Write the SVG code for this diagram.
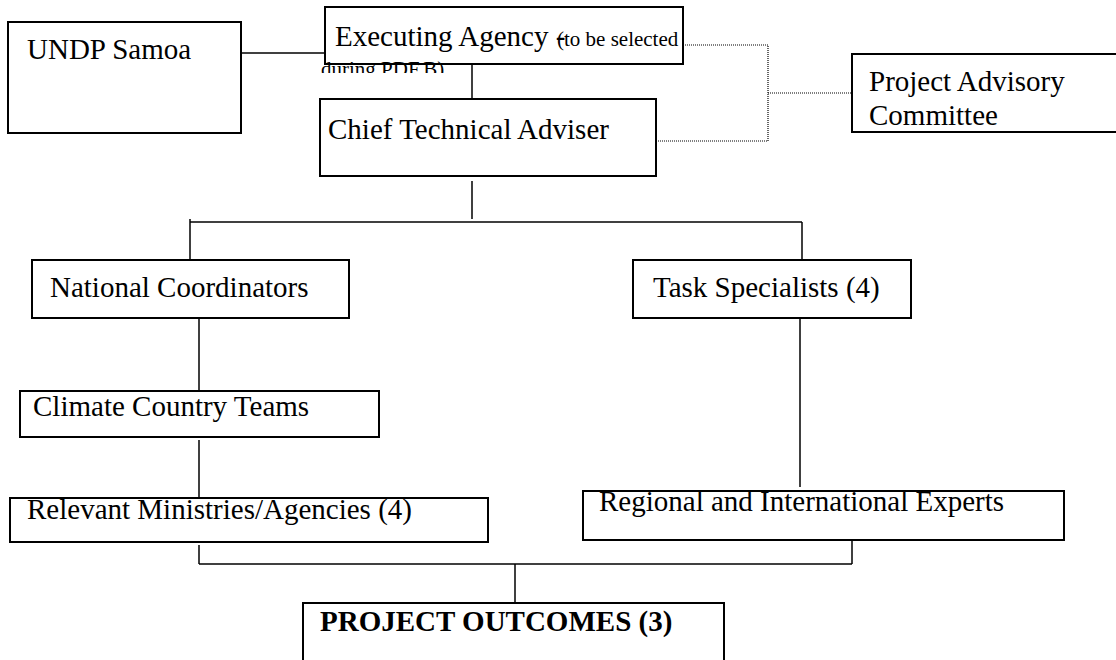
<svg xmlns="http://www.w3.org/2000/svg" width="1116" height="660" viewBox="0 0 1116 660">
  <style>
    .box { fill: #ffffff; stroke: #000000; stroke-width: 2; }
    .lbl { font-family: "Liberation Serif", "Times New Roman", serif; font-size: 29px; fill: #000000; }
    .small { font-family: "Liberation Serif", "Times New Roman", serif; font-size: 21px; fill: #000000; }
    .bold { font-weight: bold; }
    .line { fill: none; stroke: #000000; stroke-width: 1.5; }
    .dot { fill: none; stroke: #000000; stroke-width: 1.2; stroke-dasharray: 1 1; }
  </style>
  <defs>
    <clipPath id="clipSecondLine">
      <rect x="300" y="58" width="200" height="15"/>
    </clipPath>
  </defs>
  <rect width="1116" height="660" fill="#ffffff"/>

  <g id="connectors">
    <!-- UNDP Samoa to Executing Agency -->
    <line class="line" x1="241" y1="53" x2="325" y2="53"/>
    <!-- Executing Agency to Chief Technical Adviser -->
    <line class="line" x1="472" y1="62" x2="472" y2="99"/>
    <!-- Chief Technical Adviser down to the branch bar -->
    <line class="line" x1="472" y1="181" x2="472" y2="219"/>
    <!-- branch bar -->
    <line class="line" x1="190" y1="222" x2="802" y2="222"/>
    <line class="line" x1="190" y1="219" x2="190" y2="260"/>
    <line class="line" x1="802" y1="222" x2="802" y2="260"/>
    <!-- left column -->
    <line class="line" x1="199" y1="314" x2="199" y2="391"/>
    <line class="line" x1="199" y1="440" x2="199" y2="498"/>
    <line class="line" x1="199" y1="545" x2="199" y2="564"/>
    <!-- right column -->
    <line class="line" x1="800" y1="315" x2="800" y2="487"/>
    <line class="line" x1="852" y1="541" x2="852" y2="564"/>
    <!-- merge bar to outcomes -->
    <line class="line" x1="199" y1="564" x2="852" y2="564"/>
    <line class="line" x1="515" y1="564" x2="515" y2="603"/>
    <!-- advisory links (dotted) -->
    <polyline class="dot" points="683,45 768,45 768,141 642,141"/>
    <line class="dot" x1="768" y1="93" x2="852" y2="93"/>
  </g>

  <g id="undp-samoa">
    <rect class="box" x="8" y="22" width="233" height="111"/>
    <text class="lbl" x="27" y="59">UNDP Samoa</text>
  </g>

  <g id="executing-agency">
    <rect class="box" x="325" y="7" width="358" height="57"/>
    <text class="lbl" x="335" y="46">Executing Agency -</text>
    <text class="small" x="557" y="46">(to be selected</text>
    <text class="small" x="321" y="76" clip-path="url(#clipSecondLine)">during PDF.B)</text>
  </g>

  <g id="chief-technical-adviser">
    <rect class="box" x="320" y="99" width="336" height="77"/>
    <text class="lbl" x="328" y="139">Chief Technical Adviser</text>
  </g>

  <g id="project-advisory-committee">
    <rect class="box" x="852" y="54" width="266" height="78"/>
    <text class="lbl" x="869" y="91">Project Advisory</text>
    <text class="lbl" x="869" y="125">Committee</text>
  </g>

  <g id="national-coordinators">
    <rect class="box" x="32" y="260" width="317" height="58"/>
    <text class="lbl" x="50" y="297">National Coordinators</text>
  </g>

  <g id="task-specialists">
    <rect class="box" x="633" y="260" width="278" height="58"/>
    <text class="lbl" x="653" y="297">Task Specialists (4)</text>
  </g>

  <g id="climate-country-teams">
    <rect class="box" x="20" y="391" width="359" height="46"/>
    <text class="lbl" x="33" y="416">Climate Country Teams</text>
  </g>

  <g id="relevant-ministries">
    <rect class="box" x="10" y="498" width="478" height="44"/>
    <text class="lbl" x="27" y="519">Relevant Ministries/Agencies (4)</text>
  </g>

  <g id="regional-experts">
    <rect class="box" x="583" y="491" width="481" height="49"/>
    <text class="lbl" x="599" y="511">Regional and International Experts</text>
  </g>

  <g id="project-outcomes">
    <rect class="box" x="303" y="603" width="421" height="60"/>
    <text class="lbl bold" x="320" y="631">PROJECT OUTCOMES (3)</text>
  </g>
</svg>
